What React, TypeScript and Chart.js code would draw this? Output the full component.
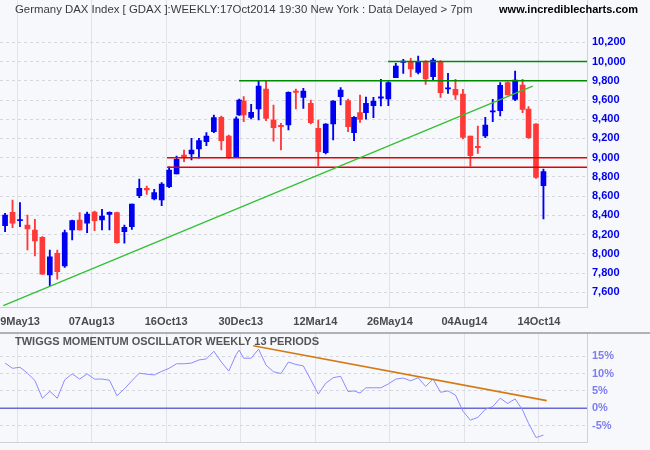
import React, { useEffect, useRef } from "react";
import { Chart, registerables } from "chart.js";

Chart.register(...registerables);

// ---- data ----
// position of each weekly bar in trading days (holiday weeks are shorter)
const tradingDay = [
  0, 5, 10, 15, 20, 25, 30, 35, 40, 45,
  50, 55, 60, 65, 70, 75, 80, 85, 90, 95,
  100, 105, 110, 115, 120, 125, 130, 135, 140, 145,
  150, 155, 157, 160, 165, 170, 175, 180, 185, 190,
  195, 200, 205, 210, 215, 220, 225, 230, 234, 238,
  242, 247, 252, 257, 262, 267, 272, 277, 282, 287,
  292, 297, 302, 307, 312, 317, 322, 327, 332, 337,
  342, 347, 351, 356, 361,
];
const openPrice = [
  8293, 8432, 8345, 8300, 8248, 8172, 7780, 8006, 7874, 8248,
  8352, 8318, 8435, 8352, 8411, 8428, 8230, 8282, 8605, 8682,
  8570, 8560, 8698, 8830, 9028, 9038, 9090, 9167, 9271, 9420,
  9226, 9008, 9444, 9590, 9420, 9506, 9714, 9392, 9330, 9340,
  9690, 9628, 9565, 9305, 9052, 9350, 9635, 9593, 9260, 9468,
  9468, 9541, 9620, 9610, 9832, 9992, 10002, 9888, 9999, 9843,
  9999, 9715, 9711, 9662, 9226, 9115, 9226, 9475, 9489, 9780,
  9607, 9756, 9506, 9350, 8709,
];
const highPrice = [
  8422, 8560, 8532, 8404, 8359, 8180, 8040, 8040, 8248, 8350,
  8428, 8435, 8446, 8463, 8438, 8435, 8300, 8518, 8778, 8705,
  8671, 8740, 8906, 9017, 9080, 9202, 9202, 9260, 9444, 9434,
  9236, 9426, 9610, 9635, 9555, 9801, 9801, 9548, 9357, 9685,
  9714, 9721, 9600, 9392, 9355, 9595, 9728, 9610, 9427, 9652,
  9630, 9628, 9815, 9791, 9981, 10023, 10033, 10058, 10009, 10033,
  10009, 9877, 9815, 9711, 9226, 9330, 9420, 9607, 9780, 9790,
  9902, 9815, 9531, 9355, 8882,
];
const lowPrice = [
  8230, 8272, 8282, 8040, 7978, 7785, 7666, 7738, 7860, 8144,
  8245, 8220, 8241, 8248, 8248, 8110, 8110, 8255, 8584, 8619,
  8560, 8501, 8688, 8830, 8958, 8976, 8994, 9125, 9260, 9080,
  8993, 9000, 9440, 9375, 9402, 9392, 9385, 9173, 9080, 9288,
  9506, 9513, 9350, 8914, 9040, 9184, 9548, 9271, 9177, 9368,
  9400, 9416, 9538, 9541, 9832, 9877, 9843, 9870, 9763, 9808,
  9628, 9669, 9607, 9194, 8913, 9045, 9208, 9375, 9434, 9652,
  9593, 9468, 9201, 8785, 8362,
];
const closePrice = [
  8404, 8318, 8352, 8258, 8134, 7790, 7970, 7814, 8220, 8345,
  8248, 8414, 8345, 8394, 8432, 8116, 8276, 8518, 8682, 8664,
  8636, 8726, 8872, 8983, 9010, 9080, 9177, 9226, 9416, 9177,
  9004, 9405, 9600, 9444, 9472, 9746, 9409, 9312, 9323, 9680,
  9680, 9694, 9364, 9063, 9350, 9590, 9704, 9323, 9420, 9399,
  9565, 9590, 9632, 9780, 9954, 10002, 9922, 9992, 9818, 10016,
  9676, 9725, 9652, 9212, 9021, 9105, 9340, 9485, 9752, 9652,
  9808, 9503, 9208, 8796, 8855,
];
const momentum = [
  13.0, 11.5, 11.8, 10.1, 8.0, 2.9, 4.9, 2.9, 8.2, 9.9,
  8.4, 9.9, 8.4, 8.4, 8.1, 3.6, 5.6, 7.9, 10.1, 9.8,
  9.6, 10.6, 11.5, 12.8, 12.8, 13.0, 13.9, 14.2, 16.4, 13.3,
  10.7, 15.5, 16.7, 14.4, 14.4, 17.0, 12.4, 10.5, 10.0, 13.3,
  12.6, 12.2, 8.2, 4.1, 7.2, 8.8, 9.2, 4.8, 5.0, 4.4,
  5.9, 5.9, 5.9, 7.0, 8.4, 8.7, 7.9, 8.8, 6.3, 8.4,
  4.6, 5.0, 3.8, -0.8, -3.4, -2.6, -0.3, 0.5, 2.9, 1.4,
  2.7, -0.5, -4.3, -8.4, -7.7,
];
const gridDays = [8, 58, 108, 158, 208, 258, 308, 358];
const dateLabels = ["29May13", "07Aug13", "16Oct13", "30Dec13", "12Mar14", "26May14", "04Aug14", "14Oct14"];
const priceTicks = [7600, 7800, 8000, 8200, 8400, 8600, 8800, 9000, 9200, 9400, 9600, 9800, 10000, 10200];
const momentumTicks = [-5, 0, 5, 10, 15];

const greenLevels = [10000, 9800];
const greenFromDays = [256.8, 156.9];
const redLevels = [9000, 8900];
const redFromDays = [108.6, 108.6];
const trendDays = [-1.2, 353.8];
const trendPrices = [7462, 9745];
const momTrendDays = [166.4, 363.2];
const momTrendValues = [18.0, 2.2];

const titleText = "Germany DAX Index [ GDAX ]:WEEKLY:17Oct2014 19:30 New York : Data Delayed > 7pm";
const siteText = "www.incrediblecharts.com";
const oscTitle = "TWIGGS MOMENTUM OSCILLATOR WEEKLY 13 PERIODS";

// ---- layout / style ----
const X_MIN = -3.4;
const X_MAX = 390.2;
const FONT = "'Liberation Sans', Arial, sans-serif";
const BG = "#f7f8fc";
const UP = "#0000f0";
const DOWN = "#ff3838";

const bgPlugin = {
  id: "bgFill",
  beforeDraw(chart: any) {
    const c = chart.ctx;
    c.save();
    c.fillStyle = BG;
    c.fillRect(0, 0, chart.width, chart.height);
    c.restore();
  },
};

function xScale(showLabels: boolean, height: number) {
  return {
    type: "linear",
    min: X_MIN,
    max: X_MAX,
    offset: false,
    grid: { color: "#e2e2e8", lineWidth: 1, drawTicks: false, offset: false },
    border: { display: true, color: "#d0d0d8", width: 1 },
    afterBuildTicks: (s: any) => {
      s.ticks = gridDays.map((v) => ({ value: v }));
    },
    ticks: {
      display: showLabels,
      autoSkip: false,
      maxRotation: 0,
      minRotation: 0,
      padding: 8,
      color: "#4a4a4a",
      font: { family: FONT, size: 11, weight: "bold" },
      callback: (_v: any, i: number) => dateLabels[i],
    },
    afterFit: (s: any) => {
      s.height = height;
      s.paddingLeft = 0;
      s.paddingRight = 0;
    },
  };
}

function PriceChart() {
  const ref = useRef<HTMLCanvasElement | null>(null);
  useEffect(() => {
    if (!ref.current) return;
    const up = closePrice.map((c, i) => c >= openPrice[i]);
    const colors = up.map((u) => (u ? UP : DOWN));
    const wicks = tradingDay.map((d, i) => ({ x: d, y: [lowPrice[i], highPrice[i]] }));
    const bodies = tradingDay.map((d, i) => ({
      x: d,
      y: [Math.min(openPrice[i], closePrice[i]), Math.max(openPrice[i], closePrice[i])],
    }));
    const lineDs = (data: any[], color: string, width: number) => ({
      type: "line",
      data,
      borderColor: color,
      borderWidth: width,
      pointRadius: 0,
      fill: false,
      tension: 0,
      order: 0,
    });
    const topText = {
      id: "topText",
      afterDraw(chart: any) {
        const c = chart.ctx;
        c.save();
        c.textBaseline = "middle";
        c.font = `11.4px ${FONT}`;
        c.fillStyle = "#3a3a3a";
        c.textAlign = "left";
        c.fillText(titleText, 15, 10);
        c.font = `bold 11px ${FONT}`;
        c.fillStyle = "#000000";
        c.textAlign = "right";
        c.fillText(siteText, 638, 10);
        c.restore();
      },
    };
    const chart = new Chart(ref.current, {
      type: "bar",
      data: {
        datasets: [
          lineDs(trendDays.map((d, i) => ({ x: d, y: trendPrices[i] })), "#33c033", 1.3),
          ...greenLevels.map((lv, i) =>
            lineDs([{ x: greenFromDays[i], y: lv }, { x: X_MAX, y: lv }], "#008a00", 1.6)
          ),
          ...redLevels.map((lv, i) =>
            lineDs([{ x: redFromDays[i], y: lv }, { x: X_MAX, y: lv }], "#e60000", 1.6)
          ),
          {
            type: "bar",
            data: bodies,
            backgroundColor: colors,
            borderWidth: 0,
            barThickness: 5,
            minBarLength: 1.2,
            grouped: false,
            order: 1,
          },
          {
            type: "bar",
            data: wicks,
            backgroundColor: colors,
            borderWidth: 0,
            barThickness: 1.2,
            grouped: false,
            order: 2,
          },
        ] as any,
      },
      options: {
        responsive: false,
        maintainAspectRatio: false,
        animation: false,
        events: [],
        layout: { padding: 0 },
        plugins: { legend: { display: false }, tooltip: { enabled: false }, title: { display: false } },
        scales: {
          x: xScale(true, 24.3) as any,
          y: {
            type: "linear",
            position: "right",
            min: 7440,
            max: 10640,
            grid: { color: "#d6d6de", lineWidth: 1, drawTicks: false },
            border: { display: true, color: "#d0d0d8", dash: [3, 3] },
            afterBuildTicks: (s: any) => {
              s.ticks = priceTicks.map((v) => ({ value: v }));
            },
            ticks: {
              padding: 5,
              color: "#0000ee",
              font: { family: FONT, size: 11, weight: "bold" },
              callback: (v: any) => Number(v).toLocaleString("en-US"),
            },
            afterFit: (s: any) => {
              s.width = 63;
              s.paddingTop = 0;
              s.paddingBottom = 0;
            },
          } as any,
        },
      } as any,
      plugins: [bgPlugin, topText],
    });
    return () => chart.destroy();
  }, []);
  return <canvas ref={ref} width={650} height={332} style={{ display: "block" }} />;
}

function MomentumChart() {
  const ref = useRef<HTMLCanvasElement | null>(null);
  useEffect(() => {
    if (!ref.current) return;
    const oscText = {
      id: "oscText",
      afterDraw(chart: any) {
        const c = chart.ctx;
        c.save();
        c.strokeStyle = "#9a9a9a";
        c.lineWidth = 1.5;
        c.beginPath();
        c.moveTo(0, 1);
        c.lineTo(chart.width, 1);
        c.stroke();
        c.textBaseline = "middle";
        c.textAlign = "left";
        c.font = `bold 11px ${FONT}`;
        c.fillStyle = "#555555";
        c.fillText(oscTitle, 15, 10);
        c.restore();
      },
    };
    const chart = new Chart(ref.current, {
      type: "line",
      data: {
        datasets: [
          {
            data: momTrendDays.map((d, i) => ({ x: d, y: momTrendValues[i] })),
            borderColor: "#d47a14",
            borderWidth: 1.6,
            pointRadius: 0,
            tension: 0,
            order: 0,
          },
          {
            data: tradingDay.map((d, i) => ({ x: d, y: momentum[i] })),
            borderColor: "#8c8cff",
            borderWidth: 1,
            pointRadius: 0,
            tension: 0,
            order: 1,
          },
          {
            data: [{ x: X_MIN, y: 0 }, { x: X_MAX, y: 0 }],
            borderColor: "#6a6ad4",
            borderWidth: 1.5,
            pointRadius: 0,
            tension: 0,
            order: 2,
          },
        ] as any,
      },
      options: {
        responsive: false,
        maintainAspectRatio: false,
        animation: false,
        events: [],
        layout: { padding: { top: 1.5, left: 0, right: 0, bottom: 0 } },
        plugins: { legend: { display: false }, tooltip: { enabled: false }, title: { display: false } },
        scales: {
          x: xScale(false, 8) as any,
          y: {
            type: "linear",
            position: "right",
            min: -9.68,
            max: 21.5,
            grid: { color: "#d6d6de", lineWidth: 1, drawTicks: false },
            border: { display: true, color: "#d0d0d8", dash: [3, 3] },
            afterBuildTicks: (s: any) => {
              s.ticks = momentumTicks.map((v) => ({ value: v }));
            },
            ticks: {
              padding: 5,
              color: "#7c7cf0",
              font: { family: FONT, size: 11, weight: "bold" },
              callback: (v: any) => `${v}%`,
            },
            afterFit: (s: any) => {
              s.width = 63;
              s.paddingTop = 0;
              s.paddingBottom = 0;
            },
          } as any,
        },
      } as any,
      plugins: [bgPlugin, oscText],
    });
    return () => chart.destroy();
  }, []);
  return <canvas ref={ref} width={650} height={118} style={{ display: "block" }} />;
}

export default function App() {
  return (
    <div style={{ position: "absolute", left: 0, top: 0, width: 650, height: 450, background: BG }}>
      <PriceChart />
      <MomentumChart />
    </div>
  );
}
